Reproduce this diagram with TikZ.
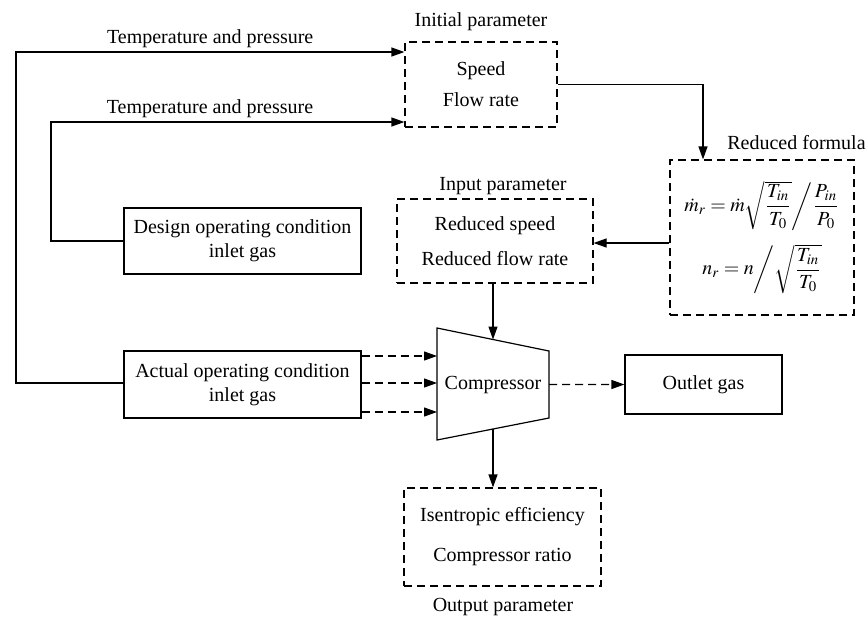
\documentclass[tikz,border=0pt]{standalone}
\usepackage{amsmath}
\usepackage{mathptmx}
\usepackage{fontspec}
\setmainfont{Liberation Serif}
\usetikzlibrary{arrows.meta,calc}

\begin{document}
\begin{tikzpicture}[x=50pt,y=-50pt,>={Triangle[length=6.5pt,width=4.5pt]},
  line width=0.6pt,
  box/.style={draw,align=center,inner sep=0pt},
  dbox/.style={box,dash pattern=on 4pt off 2.5pt},
  ann/.style={align=center},
  dflow/.style={->,dash pattern=on 4pt off 2.5pt}]
  \useasboundingbox (0,0) rectangle (8.68,6.17);
  % ---- parameter boxes ----
  \node[dbox,minimum width=76pt,minimum height=42.5pt] (init) at (4.81,0.845)
    {Speed\\[3.5pt] Flow rate};
  \node[ann] (initlab) at (4.81,0.22) {Initial parameter};
  \node[dbox,minimum width=92pt,minimum height=77.5pt] (red) at (7.62,2.375)
    {$\dot{m}_r=\dot{m}\sqrt{\dfrac{T_{in}}{T_0}}\bigg/\dfrac{P_{in}}{P_0}$\\[6pt]
     $n_r=n\bigg/\sqrt{\dfrac{T_{in}}{T_0}}$};
  \node[ann] (redlab) at (7.965,1.43) {Reduced formula};
  \node[dbox,minimum width=98pt,minimum height=42pt] (input) at (4.95,2.41)
    {Reduced speed\\[5.5pt] Reduced flow rate};
  \node[ann] (inputlab) at (5.03,1.86) {Input parameter};
  \node[dbox,minimum width=98.5pt,minimum height=49pt] (output) at (5.025,5.37)
    {Isentropic efficiency\\[8pt] Compressor ratio};
  \node[ann] (outputlab) at (5.03,6.07) {Output parameter};
  % ---- gas boxes ----
  \node[box,minimum width=118.5pt,minimum height=33pt] (design) at (2.425,2.41)
    {Design operating condition\\ inlet gas};
  \node[box,minimum width=118.5pt,minimum height=33.5pt] (actual) at (2.425,3.845)
    {Actual operating condition\\ inlet gas};
  \node[box,minimum width=78.5pt,minimum height=29.5pt] (outlet) at (7.035,3.845)
    {Outlet gas};
  % ---- compressor ----
  \coordinate (ctl) at (4.37,3.28);
  \coordinate (ctr) at (5.49,3.51);
  \coordinate (cbr) at (5.49,4.18);
  \coordinate (cbl) at (4.37,4.40);
  \draw (ctl) -- (ctr) -- (cbr) -- (cbl) -- cycle;
  \node (comp) at (4.93,3.845) {Compressor};
  \coordinate (ctop) at ($(ctl)!0.5!(ctr)$);
  \coordinate (cbot) at ($(cbl)!0.5!(cbr)$);
  \coordinate (cout) at ($(ctr)!0.5!(cbr)$);
  \coordinate (cin1) at (4.37,3.56);
  \coordinate (cin2) at (4.37,3.83);
  \coordinate (cin3) at (4.37,4.12);
  % ---- loops from the inlet gas ----
  \coordinate (la) at (0.16,0.52);
  \coordinate (lb) at (0.51,1.22);
  \draw[->] (actual.west |- cin2) -| (la) -- (la -| init.west)
    node[pos=0.5,above=-1.5pt] {Temperature and pressure};
  \draw[->] (design.west) -| (lb) -- (lb -| init.west)
    node[pos=0.45,above=-1.5pt] {Temperature and pressure};
  % ---- links ----
  \draw[->] (init.east) -| (red.north -| 7.03,0);
  \draw[->] (red.west |- 0,2.43) -- (input.east |- 0,2.43);
  \draw[->] (ctop |- input.south) -- (ctop);
  \draw[dflow] (actual.east |- cin1) -- (cin1);
  \draw[dflow] (actual.east |- cin2) -- (cin2);
  \draw[dflow] (actual.east |- cin3) -- (cin3);
  \draw[dflow] (cout) -- (outlet.west);
  \draw[->] (cbot) -- (cbot |- output.north);
\end{tikzpicture}
\end{document}
